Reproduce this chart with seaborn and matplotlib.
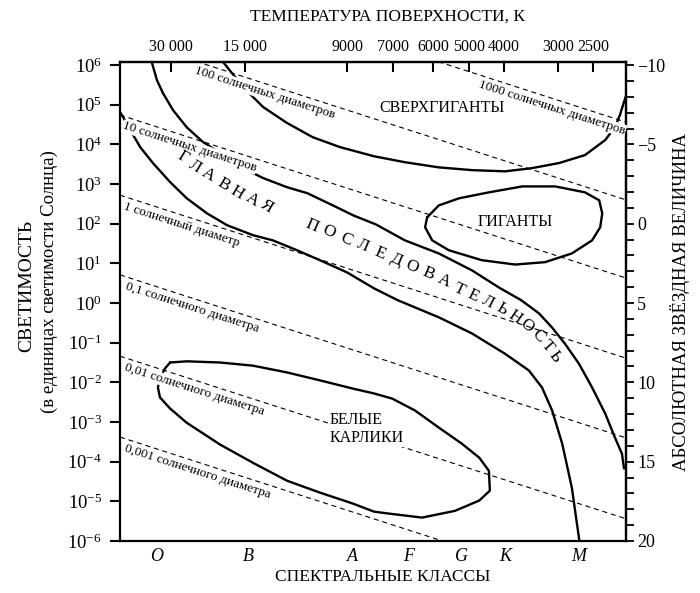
import matplotlib
matplotlib.use('Agg')
import matplotlib.pyplot as plt
import matplotlib.ticker as mticker
import seaborn as sns
import pandas as pd
import numpy as np

sns.set_theme(style="ticks")
plt.rcParams['font.family'] = ['Liberation Serif', 'DejaVu Serif']
plt.rcParams['mathtext.fontset'] = 'custom'
plt.rcParams['mathtext.rm'] = 'Liberation Serif'
plt.rcParams['mathtext.it'] = 'Liberation Serif:italic'
for key in ['text.color', 'axes.labelcolor', 'xtick.color', 'ytick.color', 'axes.edgecolor']:
    plt.rcParams[key] = 'black'

# x = position along the spectral sequence (0 = hot edge, 100 = cool edge)
# y = log10(L / L_sun)
spectral_classes = ['O', 'B', 'A', 'F', 'G', 'K', 'M']
spectral_pos = [7.2, 25.3, 46.0, 57.1, 67.5, 76.1, 90.6]

temp_labels = ['30 000', '15 000', '9000', '7000', '6000', '5000', '4000', '3000', '2500']
temp_pos = [10.1, 24.7, 44.9, 54.0, 61.9, 69.0, 75.9, 86.6, 93.5]

lum_exponents = list(range(-6, 7))
mag_major = [-10, -5, 0, 5, 10, 15, 20]

# main sequence, upper edge
ms_upper_x = [6.0, 7.3, 8.5, 10.5, 13.2, 16.4, 19.8, 23.1, 25.1, 28.3, 33.0, 37.0, 42.1,
              46.1, 50.6, 56.3, 63.0, 69.6, 74.9, 79.3, 82.8, 85.4, 87.9, 90.7, 93.3,
              95.9, 97.8, 99.2, 99.6]
ms_upper_y = [6.2, 5.62, 5.29, 4.86, 4.43, 4.06, 3.78, 3.53, 3.35, 3.15, 2.92, 2.77, 2.46,
              2.21, 1.98, 1.58, 1.25, 0.82, 0.39, 0.07, -0.26, -0.62, -1.02, -1.53, -2.13,
              -2.79, -3.39, -3.80, -4.17]

# main sequence, lower edge
ms_lower_x = [0.0, 1.2, 2.4, 4.0, 6.5, 9.9, 13.2, 17.2, 21.2, 26.3, 30.2, 35.0, 39.5,
              44.9, 50.2, 54.9, 63.0, 69.6, 76.1, 80.8, 83.4, 85.4, 87.4, 89.3, 90.9]
ms_lower_y = [4.82, 4.56, 4.28, 3.93, 3.53, 3.05, 2.64, 2.26, 1.96, 1.71, 1.58, 1.33, 1.08,
              0.77, 0.37, 0.07, -0.36, -0.77, -1.28, -1.70, -2.13, -2.71, -3.55, -4.66, -6.1]

# supergiants, lower edge
sg_x = [19.6, 22.1, 25.3, 28.3, 33.0, 38.1, 43.5, 50.2, 56.3, 63.0, 69.6, 76.1, 81.4,
        86.8, 91.9, 95.9, 97.8, 98.8, 99.6, 100.0]
sg_y = [6.2, 5.80, 5.32, 4.94, 4.54, 4.18, 3.93, 3.70, 3.55, 3.42, 3.35, 3.32, 3.40,
        3.53, 3.73, 4.11, 4.43, 4.74, 5.07, 5.22]

# giants (closed)
giants_x = [60.7, 63.0, 67.0, 72.9, 79.5, 86.0, 91.9, 94.7, 95.3, 94.9, 93.3, 89.3, 84.0,
            78.1, 71.5, 65.0, 61.7, 60.3, 60.7]
giants_y = [2.16, 2.46, 2.64, 2.79, 2.94, 2.94, 2.79, 2.59, 2.26, 1.91, 1.58, 1.25, 1.03,
            0.97, 1.08, 1.33, 1.58, 1.91, 2.16]

# white dwarfs (closed)
wd_x = [9.9, 13.2, 19.8, 26.3, 33.0, 39.5, 46.1, 50.2, 53.8, 58.3, 63.0, 67.6, 71.0,
        72.9, 73.1, 71.0, 66.2, 59.7, 53.2, 50.2, 46.1, 39.5, 33.0, 26.3, 19.8, 13.2,
        9.9, 7.9, 7.5, 7.9, 8.9, 9.9]
wd_y = [-1.50, -1.47, -1.50, -1.58, -1.75, -1.95, -2.16, -2.28, -2.41, -2.71, -3.14, -3.55,
        -3.90, -4.23, -4.73, -4.98, -5.24, -5.41, -5.31, -5.26, -5.06, -4.78, -4.48, -4.03,
        -3.57, -3.02, -2.66, -2.38, -2.13, -1.90, -1.65, -1.50]

# lines of constant radius (log L at the left and right edges)
radius_names = ['1000 солнечных диаметров', '100 солнечных диаметров', '10 солнечных диаметров',
                '1 солнечный диаметр', '0,1 солнечного диаметра', '0,01 солнечного диаметра',
                '0,001 солнечного диаметра']
radius_left = [8.67, 6.71, 4.74, 2.72, 0.71, -1.34, -3.38]
radius_right = [4.56, 2.60, 0.63, -1.39, -3.40, -5.44, -7.49]
radius_label_x = [85.4, 28.7, 13.8, 12.1, 14.2, 14.8, 15.4]

curve_rows = []
for name, xs, ys in [('ms_upper', ms_upper_x, ms_upper_y), ('ms_lower', ms_lower_x, ms_lower_y),
                     ('sg', sg_x, sg_y), ('giants', giants_x, giants_y), ('wd', wd_x, wd_y)]:
    for x, y in zip(xs, ys):
        curve_rows.append({'curve': name, 'x': x, 'logL': y})
df_curves = pd.DataFrame(curve_rows)

radius_rows = []
for name, yl, yr in zip(radius_names, radius_left, radius_right):
    radius_rows.append({'radius': name, 'x': 0.0, 'logL': yl})
    radius_rows.append({'radius': name, 'x': 100.0, 'logL': yr})
df_radius = pd.DataFrame(radius_rows)

fig = plt.figure(figsize=(7, 5.93), dpi=100)
ax = fig.add_axes([0.1714, 0.0877, 0.7229, 0.8077])

sns.lineplot(data=df_curves, x='x', y='logL', units='curve', estimator=None, sort=False,
             color='black', lw=1.7, ax=ax, zorder=3)
sns.lineplot(data=df_radius, x='x', y='logL', units='radius', estimator=None, sort=False,
             color='black', lw=0.8, ls=(0, (4.5, 3.5)), ax=ax, zorder=5)

ax.set_xlim(0, 100)
ax.set_ylim(-6, 6.076)
ax.set_xlabel('')
ax.set_ylabel('')

# left axis: luminosity
ax.set_yticks(lum_exponents)
ax.yaxis.set_major_formatter(mticker.FuncFormatter(lambda v, p: f'$10^{{{int(round(v))}}}$'))
ax.tick_params(axis='y', direction='out', length=7, width=1.5, labelsize=13.5, pad=6,
               left=True, right=False)

# bottom axis: spectral classes
ax.set_xticks(spectral_pos, labels=spectral_classes)
ax.tick_params(axis='x', length=0, pad=5, labelsize=13, bottom=True, top=False)
for lbl in ax.get_xticklabels():
    lbl.set_style('italic')

for sp in ax.spines.values():
    sp.set_linewidth(1.6)

# top axis: surface temperature
ax_top = ax.secondary_xaxis('top')
ax_top.set_xticks(temp_pos, labels=temp_labels)
ax_top.tick_params(direction='in', length=7, width=1.5, labelsize=11.5, pad=5)
ax_top.spines['top'].set_linewidth(1.6)

# right axis: absolute magnitude
ax_r = ax.secondary_yaxis('right', functions=(lambda y: 5 - 2.5 * y, lambda m: (5 - m) / 2.5))
ax_r.set_yticks(mag_major)
ax_r.yaxis.set_minor_locator(mticker.MultipleLocator(1))
ax_r.tick_params(which='both', direction='out', length=6, width=1.3, labelsize=13, pad=2)
ax_r.spines['right'].set_linewidth(1.6)

# labels on the radius lines
for name, yl, yr, lx in zip(radius_names, radius_left, radius_right, radius_label_x):
    p1 = ax.transData.transform((0, yl))
    p2 = ax.transData.transform((100, yr))
    angle = np.degrees(np.arctan2(p2[1] - p1[1], p2[0] - p1[0]))
    ly = yl + (yr - yl) * lx / 100 - 0.24
    ax.text(lx, ly, name, rotation=angle, rotation_mode='anchor', ha='center', va='center',
            fontsize=9.5, zorder=4,
            bbox=dict(facecolor='white', edgecolor='none', pad=0.3))

# region names
ax.text(63.6, 4.92, 'СВЕРХГИГАНТЫ', ha='center', va='center', fontsize=11.5, zorder=6)
ax.text(78.1, 2.04, 'ГИГАНТЫ', ha='center', va='center', fontsize=11.5, zorder=6)
ax.text(41.5, -3.18, 'БЕЛЫЕ\nКАРЛИКИ', ha='left', va='center', fontsize=11.5, zorder=6,
        linespacing=1.15, bbox=dict(facecolor='white', edgecolor='none', pad=0.5))

glavnaya = [('Г', 12.45, 3.68), ('Л', 14.82, 3.43), ('А', 17.39, 3.23), ('В', 20.36, 2.98),
            ('Н', 23.12, 2.77), ('А', 26.09, 2.60), ('Я', 29.05, 2.42)]
for ch, x, y in glavnaya:
    ax.text(x, y, ch, rotation=-31, ha='center', va='center', fontsize=12.5, zorder=6)

posl = [('П', 37.94, 1.94, -23), ('О', 41.30, 1.79, -23), ('С', 44.66, 1.61, -23),
        ('Л', 48.02, 1.44, -23), ('Е', 51.38, 1.26, -23), ('Д', 54.55, 1.08, -23),
        ('О', 57.71, 0.91, -23), ('В', 60.87, 0.73, -23), ('А', 64.03, 0.56, -24),
        ('Т', 67.00, 0.35, -25), ('Е', 69.76, 0.18, -26), ('Л', 72.73, 0.03, -27),
        ('Ь', 75.49, -0.15, -30), ('Н', 78.06, -0.35, -34), ('О', 80.43, -0.58, -38),
        ('С', 82.61, -0.83, -43), ('Т', 84.39, -1.08, -48), ('Ь', 85.97, -1.36, -53)]
for ch, x, y, rot in posl:
    ax.text(x, y, ch, rotation=rot, ha='center', va='center', fontsize=12.5, zorder=6)

# axis titles
fig.text(387 / 700, 1 - 17 / 593, 'ТЕМПЕРАТУРА ПОВЕРХНОСТИ, К', ha='center', va='center', fontsize=12.5)
fig.text(383 / 700, 1 - 577 / 593, 'СПЕКТРАЛЬНЫЕ КЛАССЫ', ha='center', va='center', fontsize=12.5)
fig.text(27 / 700, 1 - 286 / 593, 'СВЕТИМОСТЬ', rotation=90, ha='center', va='center', fontsize=14)
fig.text(49 / 700, 1 - 282 / 593, '(в единицах светимости Солнца)', rotation=90,
         ha='center', va='center', fontsize=13.5)
fig.text(680 / 700, 1 - 302 / 593, 'АБСОЛЮТНАЯ ЗВЁЗДНАЯ ВЕЛИЧИНА', rotation=90,
         ha='center', va='center', fontsize=13.5)

fig.savefig('out.png', dpi=100)
plt.close(fig)
